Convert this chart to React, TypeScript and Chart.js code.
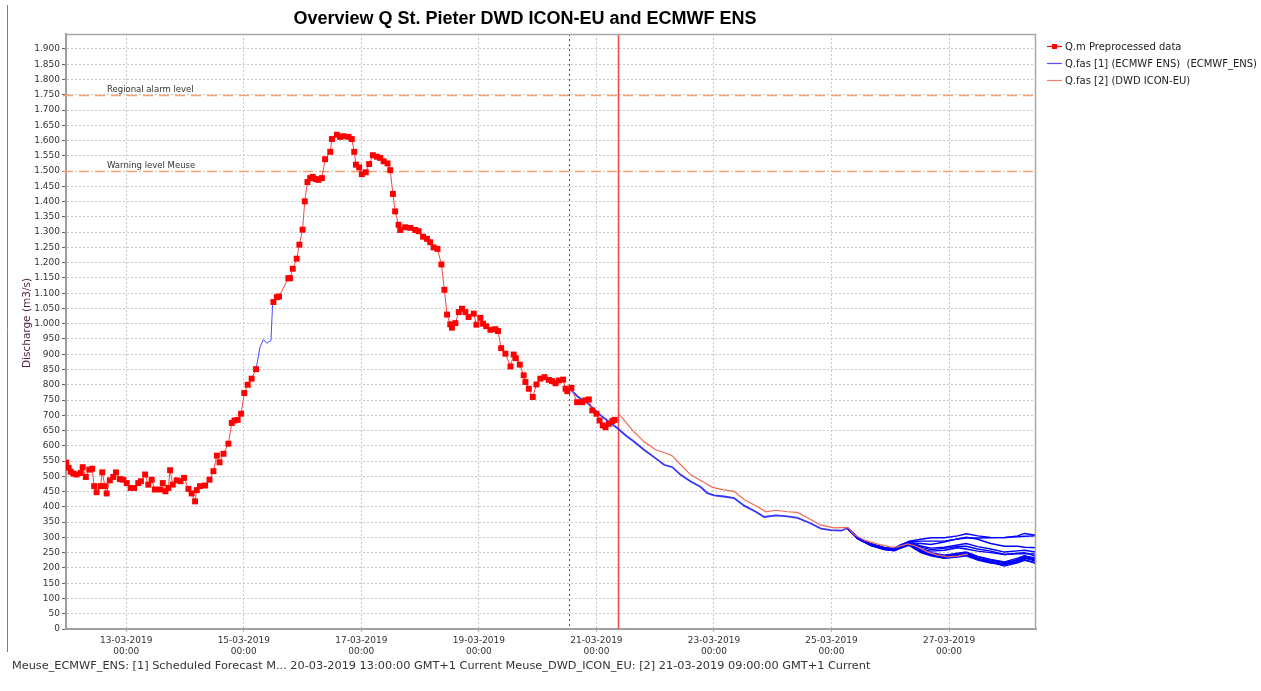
import React, { useEffect, useRef } from 'react';
import { Chart, registerables } from 'chart.js';

Chart.register(...registerables);

// Time axis: hours since 12-03-2019 00:00 (GMT+1)
const xTickHours = [24, 72, 120, 168, 216, 264, 312, 360];
const yTickValues = [
  0, 50, 100, 150, 200, 250, 300, 350, 400, 450, 500, 550, 600, 650, 700, 750, 800, 850, 900, 950,
  1000, 1050, 1100, 1150, 1200, 1250, 1300, 1350, 1400, 1450, 1500, 1550, 1600, 1650, 1700, 1750,
  1800, 1850, 1900,
];

const ecmwfT0 = 205; // 20-03-2019 13:00
const dwdT0 = 225; // 21-03-2019 09:00

const thresholdValues = [1750, 1500];
const thresholdLabels = ['Regional alarm level', 'Warning level Meuse'];

const legendLabels = [
  'Q.m Preprocessed data',
  'Q.fas [1] (ECMWF ENS)  (ECMWF_ENS)',
  'Q.fas [2] (DWD ICON-EU)',
];

const footerText =
  'Meuse_ECMWF_ENS: [1] Scheduled Forecast M... 20-03-2019 13:00:00 GMT+1 Current Meuse_DWD_ICON_EU: [2] 21-03-2019 09:00:00 GMT+1 Current';

const obsHours = [
  -0.5, 0.5, 1.3, 2.4, 3.7, 5.4, 6.2, 7.5, 8.9, 10.1, 10.9, 11.9, 13.5, 14.2, 15.3, 16.0, 17.3, 18.7,
  19.8, 21.4, 22.8, 24.2, 25.8, 27.2, 28.9, 30.0, 31.7, 33.0, 34.4, 35.7, 37.8, 38.9, 40.0, 41.2,
  41.9, 43.0, 44.6, 46.2, 47.6, 49.4, 50.7, 52.1, 52.8, 54.1, 56.2, 58.0, 59.6, 61.0, 62.1, 63.7,
  65.7, 67.1, 68.2, 69.5, 70.9, 72.2, 73.6, 75.2, 77.0, 80.0, 84.1, 85.5, 86.4, 90.2, 90.9, 92.0,
  93.6, 94.7, 96.0, 96.9, 98.0, 99.1, 100.2, 101.4, 102.5, 103.9, 105.2, 107.3, 108.0, 110.0,
  111.3, 112.7, 114.8, 116.1, 117.1, 117.8, 119.1, 120.2, 121.8, 123.2, 124.7, 126.3, 127.7,
  129.1, 130.7, 131.8, 132.9, 133.8, 135.2, 135.9, 137.9, 140.0, 142.0, 143.4, 145.2, 146.8,
  148.1, 149.5, 151.1, 152.7, 153.9, 155.0, 156.3, 157.0, 158.4, 159.8, 161.1, 162.5, 163.8,
  165.9, 167.0, 168.6, 169.7, 171.0, 172.7, 174.7, 175.8, 177.1, 178.8, 180.9, 182.2, 183.1,
  184.7, 186.3, 187.0, 188.4, 190.0, 191.5, 193.1, 194.8, 196.6, 197.9, 199.3, 200.6, 202.4,
  203.4, 204.1, 205.8, 208.1, 210.2, 211.5, 212.9, 214.3, 216.0, 217.3, 218.6, 219.7, 221.1,
  222.5, 223.4,
];
const obsValues = [
  545, 528, 515, 509, 506, 511, 530, 498, 522, 525, 468, 448, 468, 513, 468, 444, 487, 498,
  513, 491, 489, 478, 462, 462, 478, 484, 506, 473, 489, 457, 457, 478, 451, 462,
  520, 473, 487, 484, 495, 459, 444, 418, 455, 468, 470, 489, 517, 568, 546, 574,
  607, 675, 683, 685, 705, 773, 800, 820, 851, null, 1071, 1087, 1089, 1149, 1149, 1180,
  1213, 1259, 1308, 1401, 1464, 1477, 1481, 1474, 1471, 1477, 1539, 1563, 1605, 1619,
  1612, 1614, 1612, 1605, 1563, 1521, 1512, 1490, 1496, 1523, 1552, 1547, 1543,
  1532, 1525, 1503, 1425, 1368, 1324, 1307, 1316, 1314, 1307, 1303, 1285, 1278,
  1267, 1250, 1245, 1194, 1111, 1030, 998, 987, 1002, 1038, 1049, 1038, 1022,
  1033, 997, 1019, 1000, 992, 980, 982, 976, 920, 902, 860, 899, 887,
  866, 831, 809, 787, 760, 801, 820, 825, 816, 812, 805, 814, 817,
  787, 779, 790, 743, 743, 749, 752, 716, 705, 683, 667, 661, 672,
  681, 685,
];

// ECMWF hindcast visible where observations are missing
const hindcastHours = [77.0, 78.6, 80.0, 81.4, 83.1, 83.8];
const hindcastValues = [851, 923, 948, 936, 945, 1071];

// ECMWF forecast, common part before the members spread
const ecmwfHours = [
  205, 208.5, 212, 215, 218, 221, 225, 228, 231.3, 235.4, 240.2, 243.6, 247, 250.4, 254.5, 258.6,
  261.3, 264, 268.1, 272.2, 276.3, 281.1, 284.5, 289.3, 294, 298.1, 302.9, 307.7, 311.7, 316, 318.5,
];
const ecmwfValues = [
  788, 760, 743, 720, 698, 680, 655, 634, 614, 587, 559, 538, 530, 505, 483, 465,
  445, 438, 434, 429, 404, 384, 367, 372, 369, 364, 348, 329, 324, 322, 331,
];

// ECMWF ensemble members after they spread
const memberHours = [
  318.5, 322.6, 328, 333.5, 337.6, 340.3, 343.7, 348.5, 352.6, 358, 363.5, 367, 371.7, 377, 382.6,
  388, 390.8, 395.5,
];
const member1 = [331, 300, 279, 266, 263, 275, 288, 294, 299, 299, 305, 312, 305, 300, 299, 305, 313, 307];
const member2 = [331, 299, 278, 265, 262, 273, 286, 288, 288, 288, 295, 301, 294, 280, 271, 271, 268, 266];
const member3 = [331, 299, 277, 264, 261, 272, 283, 280, 277, 285, 295, 298, 298, 299, 300, 302, 304, 305];
const member4 = [331, 298, 276, 263, 260, 270, 280, 268, 260, 264, 270, 271, 262, 255, 244, 246, 247, 246];
const member5 = [330, 298, 276, 263, 259, 269, 279, 262, 255, 258, 266, 262, 255, 250, 244, 248, 250, 238];
const member6 = [330, 298, 275, 262, 258, 268, 278, 256, 245, 237, 242, 248, 232, 222, 214, 228, 238, 228];
const member7 = [330, 297, 275, 262, 258, 267, 277, 254, 243, 235, 238, 244, 228, 218, 206, 217, 225, 217];
const member8 = [330, 297, 274, 261, 257, 266, 276, 252, 242, 234, 240, 245, 230, 220, 210, 222, 232, 222];
const member9 = [332, 301, 280, 267, 264, 276, 285, 272, 265, 268, 275, 280, 270, 262, 252, 256, 258, 252];
const member10 = [329, 296, 273, 260, 256, 265, 274, 250, 240, 232, 236, 240, 226, 216, 212, 220, 228, 214];
const member11 = [331, 299, 277, 264, 260, 271, 281, 259, 250, 242, 248, 252, 238, 228, 220, 232, 240, 232];
const member12 = [330, 297, 275, 261, 257, 267, 277, 257, 247, 240, 245, 250, 236, 226, 218, 225, 234, 225];
const members = [
  member1, member2, member3, member4, member5, member6, member7, member8, member9, member10,
  member11, member12,
];

// DWD ICON-EU forecast
const dwdHours = [
  225, 228, 231.3, 235.4, 240.2, 245, 247, 250.4, 254.5, 259.3, 263.4, 268.1, 272.2, 276.3, 281.1,
  285.2, 289.3, 294, 298.1, 302.9, 307.7, 313.1, 318.6, 321.3, 325.4, 330.8, 336.3, 339, 343.1,
  346.5, 351.3, 355, 359.5, 363.5, 367.6,
];
const dwdValues = [
  706, 678, 646, 614, 587, 574, 567, 538, 505, 483, 464, 456, 451, 424, 404,
  384, 389, 384, 382, 361, 340, 331, 333, 309, 291, 278, 268, 269, 279,
  271, 252, 243, 236, 239, 246,
];

const toXY = (hs: number[], vs: (number | null)[]) => hs.map((h, i) => ({ x: h, y: vs[i] }));

const fmtY = (v: number) => {
  if (v >= 1000) {
    const t = Math.floor(v / 1000);
    const r = String(v % 1000).padStart(3, '0');
    return `${t}.${r}`;
  }
  return String(v);
};

const fmtX = (h: number) => {
  const day = 12 + Math.floor(h / 24);
  const hr = Math.round(h % 24);
  return [`${String(day).padStart(2, '0')}-03-2019`, `${String(hr).padStart(2, '0')}:00`];
};

const FONT = '"DejaVu Sans", Verdana, sans-serif';

const overlay = {
  id: 'overlay',
  beforeDatasetsDraw(chart: any) {
    const { ctx, chartArea: a, scales } = chart;
    const x = scales.x;
    const y = scales.y;
    ctx.save();
    // threshold lines
    ctx.strokeStyle = '#f2a56e';
    ctx.lineWidth = 1.5;
    ctx.setLineDash([10, 6]);
    thresholdValues.forEach((v) => {
      const py = Math.round(y.getPixelForValue(v)) + 0.5;
      ctx.beginPath();
      ctx.moveTo(a.left - 3, py);
      ctx.lineTo(a.right, py);
      ctx.stroke();
    });
    ctx.setLineDash([]);
    ctx.fillStyle = '#333';
    ctx.font = `8.5px ${FONT}`;
    ctx.textAlign = 'left';
    ctx.textBaseline = 'alphabetic';
    thresholdValues.forEach((v, i) => {
      const py = Math.round(y.getPixelForValue(v));
      ctx.fillText(thresholdLabels[i], 107, py - 3);
    });
    // ECMWF T0
    const px1 = Math.round(x.getPixelForValue(ecmwfT0)) + 0.5;
    ctx.strokeStyle = '#505050';
    ctx.lineWidth = 1;
    ctx.setLineDash([2, 3]);
    ctx.beginPath();
    ctx.moveTo(px1, a.top);
    ctx.lineTo(px1, a.bottom);
    ctx.stroke();
    // DWD T0
    ctx.setLineDash([]);
    const px2 = Math.round(x.getPixelForValue(dwdT0)) + 0.5;
    ctx.strokeStyle = '#f04848';
    ctx.lineWidth = 1.5;
    ctx.beginPath();
    ctx.moveTo(px2, a.top);
    ctx.lineTo(px2, a.bottom);
    ctx.stroke();
    ctx.restore();
  },
  afterDraw(chart: any) {
    const { ctx, chartArea: a } = chart;
    ctx.save();
    // plot frame (top, right)
    ctx.strokeStyle = '#a8a8a8';
    ctx.lineWidth = 1.5;
    ctx.beginPath();
    ctx.moveTo(a.left, a.top + 0.5);
    ctx.lineTo(a.right - 0.5, a.top + 0.5);
    ctx.lineTo(a.right - 0.5, a.bottom);
    ctx.stroke();
    // left panel line
    ctx.strokeStyle = '#808080';
    ctx.lineWidth = 1;
    ctx.beginPath();
    ctx.moveTo(7.5, 5);
    ctx.lineTo(7.5, 652);
    ctx.stroke();
    // title
    ctx.fillStyle = '#000';
    ctx.font = `bold 18px "Liberation Sans", Arial, sans-serif`;
    ctx.textAlign = 'center';
    ctx.textBaseline = 'middle';
    ctx.fillText('Overview Q St. Pieter DWD ICON-EU and ECMWF ENS', 525, 19);
    // y-axis title
    ctx.save();
    ctx.translate(27, 323);
    ctx.rotate(-Math.PI / 2);
    ctx.fillStyle = '#4e1f45';
    ctx.font = `10.5px ${FONT}`;
    ctx.textAlign = 'center';
    ctx.textBaseline = 'middle';
    ctx.fillText('Discharge (m3/s)', 0, 0);
    ctx.restore();
    // legend
    const ly = [46, 63, 80];
    const lc = ['#ff0000', '#5050ff', '#f08070'];
    ctx.font = `10px ${FONT}`;
    ctx.textAlign = 'left';
    ctx.textBaseline = 'middle';
    legendLabels.forEach((t, i) => {
      ctx.strokeStyle = lc[i];
      ctx.lineWidth = 1.2;
      ctx.beginPath();
      ctx.moveTo(1047, ly[i] + 0.5);
      ctx.lineTo(1062, ly[i] + 0.5);
      ctx.stroke();
      if (i === 0) {
        ctx.fillStyle = '#ff0000';
        ctx.fillRect(1052, ly[i] - 2, 5, 5);
      }
      ctx.fillStyle = '#222';
      ctx.fillText(t, 1065, ly[i] + 1);
    });
    // footer
    ctx.fillStyle = '#333';
    ctx.font = `11.3px ${FONT}`;
    ctx.textAlign = 'left';
    ctx.textBaseline = 'middle';
    ctx.fillText(footerText, 12, 666);
    ctx.restore();
  },
};

export default function App() {
  const ref = useRef<HTMLCanvasElement | null>(null);

  useEffect(() => {
    const canvas = ref.current;
    if (!canvas) return;
    const datasets: any[] = [
      {
        label: legendLabels[0],
        data: toXY(obsHours, obsValues),
        borderColor: '#f04848',
        borderWidth: 1,
        pointStyle: 'rect',
        pointRadius: 4.2,
        pointBackgroundColor: '#ff0000',
        pointBorderWidth: 0,
        spanGaps: false,
      },
      {
        label: legendLabels[2],
        data: toXY(dwdHours, dwdValues),
        borderColor: '#f06a55',
        borderWidth: 1.2,
        pointRadius: 0,
      },
      {
        label: 'hindcast',
        data: toXY(hindcastHours, hindcastValues),
        borderColor: '#4848ff',
        borderWidth: 1,
        pointRadius: 0,
      },
      {
        label: legendLabels[1],
        data: toXY(ecmwfHours, ecmwfValues),
        borderColor: '#3434ff',
        borderWidth: 1.8,
        pointRadius: 0,
      },
    ];
    members.forEach((m, i) => {
      datasets.push({
        label: `member ${i + 1}`,
        data: toXY(memberHours, m),
        borderColor: '#0000ff',
        borderWidth: 1.4,
        pointRadius: 0,
      });
    });

    const gridCommon = {
      color: '#c8c8c8',
      lineWidth: 1,
      tickLength: 4,
    };

    const chart = new Chart(canvas, {
      type: 'line',
      data: { datasets },
      options: {
        responsive: false,
        animation: false,
        devicePixelRatio: 1,
        layout: { padding: { left: 0, top: 34, right: 225, bottom: 0 } },
        plugins: {
          legend: { display: false },
          tooltip: { enabled: false },
          title: { display: false },
        },
        elements: { line: { tension: 0 } },
        scales: {
          x: {
            type: 'linear',
            min: -0.6,
            max: 395.5,
            afterBuildTicks: (s: any) => {
              s.ticks = xTickHours.map((v) => ({ value: v }));
            },
            afterFit: (s: any) => {
              s.height = 62;
            },
            ticks: {
              callback: (v: any) => fmtX(Number(v)),
              font: { family: FONT, size: 9 },
              color: '#333',
              maxRotation: 0,
              autoSkip: false,
              padding: 2,
            },
            grid: { ...gridCommon, tickColor: '#b0b0b0', tickBorderDash: [2, 2] },
            border: { color: '#a0a0a0', width: 2, dash: [2, 2] },
          },
          y: {
            type: 'linear',
            min: 0,
            max: 1949,
            afterBuildTicks: (s: any) => {
              s.ticks = yTickValues.map((v) => ({ value: v }));
            },
            afterFit: (s: any) => {
              s.width = 66;
            },
            ticks: {
              autoSkip: false,
              callback: (v: any) => fmtY(Number(v)),
              font: { family: FONT, size: 9 },
              color: '#333',
              padding: 2,
            },
            grid: { ...gridCommon, tickColor: '#606060', tickBorderDash: [] },
            border: { color: '#a0a0a0', width: 2, dash: [2, 2] },
          },
        },
      },
      plugins: [overlay],
    } as any);
    return () => chart.destroy();
  }, []);

  return (
    <div style={{ position: 'absolute', left: 0, top: 0, width: 1261, height: 691, background: '#fff' }}>
      <canvas ref={ref} width={1261} height={691} style={{ display: 'block' }} />
    </div>
  );
}
